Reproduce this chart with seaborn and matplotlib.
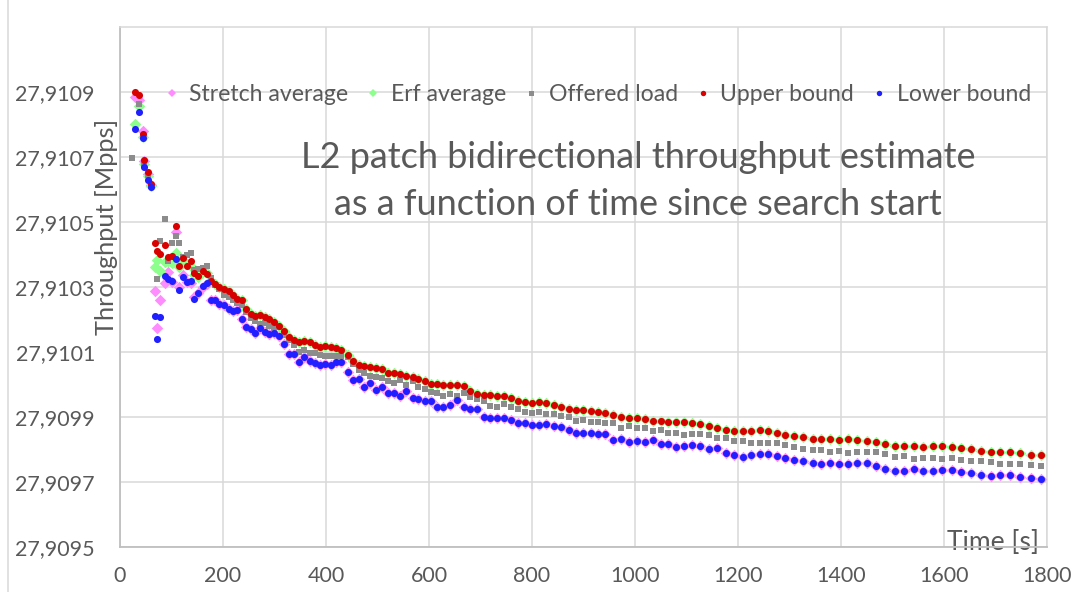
import numpy as np
import pandas as pd
import matplotlib
matplotlib.use("Agg")
import matplotlib.pyplot as plt
from matplotlib.lines import Line2D
from matplotlib.ticker import FuncFormatter
import seaborn as sns

nan = np.nan

# ---------------- data ----------------
time_s = [
    23, 29, 36, 44, 47, 54, 60,
    67, 72, 78, 87, 94, 100, 108, 115, 123, 130, 137,
    144, 152, 161, 168, 176, 185, 193, 202, 211, 220,
    227, 236, 244, 254, 263, 272, 281, 290, 299, 308,
    318, 328, 338, 348, 358, 368, 378, 389, 399, 410,
    420, 430, 442, 452, 464, 474, 486, 498, 509, 521,
    533, 544, 556, 568, 579, 592, 604, 616, 628, 641,
    654, 667, 680, 693, 706, 719, 732, 745, 760, 772,
    787, 800, 814, 828, 842, 857, 871, 885, 899, 914,
    928, 942, 958, 972, 988, 1003, 1019, 1034, 1050, 1065,
    1079, 1095, 1111, 1127, 1144, 1160, 1176, 1192, 1209, 1225,
    1242, 1258, 1275, 1292, 1309, 1326, 1345, 1361, 1379, 1396,
    1414, 1432, 1450, 1468, 1486, 1504, 1522, 1541, 1559, 1578,
    1596, 1615, 1633, 1652, 1672, 1691, 1709, 1729, 1748, 1768,
    1788,
]

upper_bound = [
    nan, 27.910900, 27.910892, 27.910771, 27.910691, 27.910654, 27.910617,
    27.910435, 27.910411, 27.910402, 27.910429, 27.910392, 27.910394, 27.910488, 27.910366, 27.910390, 27.910365, 27.910379,
    27.910342, 27.910335, 27.910348, 27.910340, 27.910317, 27.910309, 27.910301, 27.910293, 27.910287, 27.910275,
    27.910262, 27.910260, 27.910231, 27.910216, 27.910210, 27.910215, 27.910209, 27.910202, 27.910193, 27.910180,
    27.910165, 27.910147, 27.910137, 27.910131, 27.910134, 27.910130, 27.910122, 27.910116, 27.910117, 27.910115,
    27.910111, 27.910106, 27.910091, 27.910072, 27.910061, 27.910057, 27.910053, 27.910051, 27.910048, 27.910036,
    27.910035, 27.910031, 27.910027, 27.910023, 27.910017, 27.910010, 27.910002, 27.910001, 27.909999, 27.909999,
    27.910000, 27.909995, 27.909981, 27.909971, 27.909967, 27.909967, 27.909966, 27.909966, 27.909959, 27.909950,
    27.909946, 27.909944, 27.909945, 27.909944, 27.909938, 27.909930, 27.909925, 27.909922, 27.909922, 27.909918,
    27.909914, 27.909912, 27.909905, 27.909899, 27.909898, 27.909896, 27.909893, 27.909889, 27.909887, 27.909885,
    27.909884, 27.909884, 27.909883, 27.909878, 27.909872, 27.909865, 27.909861, 27.909858, 27.909857, 27.909858,
    27.909859, 27.909857, 27.909851, 27.909845, 27.909841, 27.909838, 27.909832, 27.909832, 27.909831, 27.909830,
    27.909831, 27.909830, 27.909827, 27.909823, 27.909816, 27.909812, 27.909811, 27.909810, 27.909809, 27.909810,
    27.909810, 27.909809, 27.909806, 27.909801, 27.909794, 27.909793, 27.909792, 27.909791, 27.909788, 27.909783,
    27.909783,
]

erf_average = [
    nan, 27.910802, 27.910857, 27.910762, 27.910679, 27.910642, 27.910611,
    27.910361, 27.910383, 27.910350, 27.910377, 27.910380, 27.910374, 27.910406, 27.910361, 27.910377, 27.910371, 27.910365,
    27.910337, 27.910331, 27.910346, 27.910342, 27.910317, 27.910309, 27.910301, 27.910293, 27.910287, 27.910275,
    27.910262, 27.910260, 27.910231, 27.910216, 27.910210, 27.910215, 27.910209, 27.910202, 27.910193, 27.910180,
    27.910165, 27.910147, 27.910137, 27.910131, 27.910134, 27.910130, 27.910122, 27.910116, 27.910117, 27.910115,
    27.910111, 27.910106, 27.910091, 27.910072, 27.910061, 27.910057, 27.910053, 27.910051, 27.910048, 27.910036,
    27.910035, 27.910031, 27.910027, 27.910023, 27.910017, 27.910010, 27.910002, 27.910001, 27.909999, 27.909999,
    27.910000, 27.909995, 27.909981, 27.909971, 27.909967, 27.909967, 27.909966, 27.909966, 27.909959, 27.909950,
    27.909946, 27.909944, 27.909945, 27.909944, 27.909938, 27.909930, 27.909925, 27.909922, 27.909922, 27.909918,
    27.909914, 27.909912, 27.909905, 27.909899, 27.909898, 27.909896, 27.909893, 27.909889, 27.909887, 27.909885,
    27.909884, 27.909884, 27.909883, 27.909878, 27.909872, 27.909865, 27.909861, 27.909858, 27.909857, 27.909858,
    27.909859, 27.909857, 27.909851, 27.909845, 27.909841, 27.909838, 27.909832, 27.909832, 27.909831, 27.909830,
    27.909831, 27.909830, 27.909827, 27.909823, 27.909816, 27.909812, 27.909811, 27.909810, 27.909809, 27.909810,
    27.909810, 27.909809, 27.909806, 27.909801, 27.909794, 27.909793, 27.909792, 27.909791, 27.909788, 27.909783,
    27.909783,
]

lower_bound = [
    nan, 27.910786, 27.910838, 27.910758, 27.910669, 27.910629, 27.910608,
    27.910211, 27.910141, 27.910209, 27.910334, 27.910325, 27.910320, 27.910385, 27.910291, 27.910332, 27.910314, 27.910318,
    27.910264, 27.910281, 27.910303, 27.910311, 27.910260, 27.910260, 27.910248, 27.910245, 27.910231, 27.910226,
    27.910229, 27.910202, 27.910176, 27.910170, 27.910158, 27.910174, 27.910161, 27.910155, 27.910157, 27.910149,
    27.910125, 27.910094, 27.910094, 27.910070, 27.910086, 27.910073, 27.910067, 27.910061, 27.910063, 27.910059,
    27.910069, 27.910069, 27.910038, 27.910014, 27.910018, 27.909993, 27.910006, 27.909983, 27.909993, 27.909973,
    27.909973, 27.909966, 27.909981, 27.909959, 27.909955, 27.909948, 27.909949, 27.909932, 27.909932, 27.909937,
    27.909952, 27.909932, 27.909925, 27.909924, 27.909900, 27.909897, 27.909897, 27.909897, 27.909891, 27.909881,
    27.909881, 27.909874, 27.909876, 27.909878, 27.909871, 27.909870, 27.909860, 27.909850, 27.909850, 27.909850,
    27.909848, 27.909847, 27.909829, 27.909831, 27.909823, 27.909825, 27.909823, 27.909828, 27.909816, 27.909816,
    27.909809, 27.909811, 27.909813, 27.909811, 27.909801, 27.909806, 27.909789, 27.909782, 27.909778, 27.909783,
    27.909786, 27.909786, 27.909780, 27.909773, 27.909767, 27.909764, 27.909759, 27.909755, 27.909760, 27.909754,
    27.909756, 27.909757, 27.909758, 27.909750, 27.909740, 27.909735, 27.909735, 27.909739, 27.909734, 27.909735,
    27.909737, 27.909737, 27.909732, 27.909728, 27.909721, 27.909718, 27.909721, 27.909721, 27.909716, 27.909712,
    27.909709,
]

stretch_average = [
    nan, 27.910886, 27.910875, 27.910780, 27.910688, 27.910648, 27.910614,
    27.910289, 27.910175, 27.910260, 27.910312, 27.910346, 27.910315, 27.910469, 27.910299, 27.910337, 27.910315, 27.910312,
    27.910269, 27.910282, 27.910300, 27.910309, 27.910260, 27.910260, 27.910248, 27.910245, 27.910231, 27.910226,
    27.910229, 27.910202, 27.910176, 27.910170, 27.910158, 27.910174, 27.910161, 27.910155, 27.910157, 27.910149,
    27.910125, 27.910094, 27.910094, 27.910070, 27.910086, 27.910073, 27.910067, 27.910061, 27.910063, 27.910059,
    27.910069, 27.910069, 27.910038, 27.910014, 27.910018, 27.909993, 27.910006, 27.909983, 27.909993, 27.909973,
    27.909973, 27.909966, 27.909981, 27.909959, 27.909955, 27.909948, 27.909949, 27.909932, 27.909932, 27.909937,
    27.909952, 27.909932, 27.909925, 27.909924, 27.909900, 27.909897, 27.909897, 27.909897, 27.909891, 27.909881,
    27.909881, 27.909874, 27.909876, 27.909878, 27.909871, 27.909870, 27.909860, 27.909850, 27.909850, 27.909850,
    27.909848, 27.909847, 27.909829, 27.909831, 27.909823, 27.909825, 27.909823, 27.909828, 27.909816, 27.909816,
    27.909809, 27.909811, 27.909813, 27.909811, 27.909801, 27.909806, 27.909789, 27.909782, 27.909778, 27.909783,
    27.909786, 27.909786, 27.909780, 27.909773, 27.909767, 27.909764, 27.909759, 27.909755, 27.909760, 27.909754,
    27.909756, 27.909757, 27.909758, 27.909750, 27.909740, 27.909735, 27.909735, 27.909739, 27.909734, 27.909735,
    27.909737, 27.909737, 27.909732, 27.909728, 27.909721, 27.909718, 27.909721, 27.909721, 27.909716, 27.909712,
    27.909709,
]

offered_load = [
    27.910698, nan, 27.910863, 27.910765, 27.910678, 27.910645, 27.910611,
    nan, 27.910324, 27.910442, 27.910508, 27.910380, 27.910434, 27.910458, 27.910436, 27.910392, 27.910399, 27.910404,
    27.910352, 27.910354, 27.910358, 27.910365, 27.910327, 27.910306, 27.910294, 27.910275, 27.910269, 27.910260,
    27.910250, 27.910245, 27.910223, 27.910204, 27.910195, 27.910186, 27.910188, 27.910180, 27.910173, 27.910178,
    27.910152, 27.910137, 27.910122, 27.910101, 27.910106, 27.910098, 27.910098, 27.910091, 27.910088, 27.910088,
    27.910087, 27.910088, 27.910085, 27.910063, 27.910044, 27.910035, 27.910027, 27.910023, 27.910019, 27.910011,
    27.910004, 27.910014, 27.909999, 27.910011, 27.909991, 27.909985, 27.909978, 27.909975, 27.909966, 27.909971,
    27.909966, 27.909975, 27.909962, 27.909956, 27.909950, 27.909934, 27.909931, 27.909940, 27.909931, 27.909924,
    27.909915, 27.909913, 27.909916, 27.909909, 27.909909, 27.909903, 27.909900, 27.909889, 27.909891, 27.909886,
    27.909884, 27.909883, 27.909883, 27.909867, 27.909873, 27.909865, 27.909867, 27.909858, 27.909861, 27.909851,
    27.909851, 27.909846, 27.909848, 27.909848, 27.909845, 27.909836, 27.909836, 27.909827, 27.909826, 27.909819,
    27.909821, 27.909821, 27.909821, 27.909814, 27.909809, 27.909802, 27.909799, 27.909799, 27.909793, 27.909796,
    27.909790, 27.909792, 27.909792, 27.909792, 27.909786, 27.909778, 27.909780, 27.909771, 27.909774, 27.909774,
    27.909772, 27.909773, 27.909769, 27.909766, 27.909765, 27.909762, 27.909756, 27.909756, 27.909756, 27.909753,
    27.909750,
]

series_names = ["Stretch average", "Erf average", "Offered load", "Upper bound", "Lower bound"]
x_ticks = [0, 200, 400, 600, 800, 1000, 1200, 1400, 1600, 1800]
y_ticks = [27.9095, 27.9097, 27.9099, 27.9101, 27.9103, 27.9105, 27.9107, 27.9109]
title_text = "L2 patch bidirectional throughput estimate\nas a function of time since search start"
x_label = "Time [s]"
y_label = "Throughput [Mpps]"

# ---------------- styling ----------------
styles = {
    "Stretch average": dict(marker="D", color="#ff8cff", s=34, ms=4.4),
    "Erf average":     dict(marker="D", color="#8cff8c", s=34, ms=4.4),
    "Offered load":    dict(marker="s", color="#8c8c8c", s=23, ms=3.6),
    "Upper bound":     dict(marker="o", color="#d80000", s=26, ms=3.9),
    "Lower bound":     dict(marker="o", color="#1f1fff", s=26, ms=3.9),
}
text_color = "#595959"
grid_color = "#d9d9d9"

sns.set_theme(style="white")
plt.rcParams["font.family"] = ["Lato", "DejaVu Sans"]

wide = pd.DataFrame({
    "time": time_s,
    "Stretch average": stretch_average,
    "Erf average": erf_average,
    "Offered load": offered_load,
    "Upper bound": upper_bound,
    "Lower bound": lower_bound,
})
long = wide.melt(id_vars="time", var_name="series", value_name="value").dropna()

W, H = 1077, 592
fig = plt.figure(figsize=(W / 100, H / 100), dpi=100)
fig.patch.set_facecolor("white")
ax = fig.add_axes([120 / W, 45 / H, 927 / W, 520 / H])

for i, name in enumerate(series_names):
    st = styles[name]
    sub = long[long["series"] == name]
    sns.scatterplot(data=sub, x="time", y="value", ax=ax, marker=st["marker"],
                    color=st["color"], s=st["s"], linewidth=0, legend=False,
                    zorder=3 + i)

ax.set_xlim(0, 1800)
ax.set_ylim(27.9095, 27.9111)
ax.set_xticks(x_ticks)
ax.set_yticks(y_ticks)
ax.yaxis.set_major_formatter(FuncFormatter(lambda v, p: f"{v:.4f}".replace(".", ",")))
ax.xaxis.set_major_formatter(FuncFormatter(lambda v, p: f"{v:.0f}"))
ax.grid(True, color=grid_color, linewidth=1.1, zorder=0)
ax.set_axisbelow(True)
ax.tick_params(axis="both", length=0, labelsize=15.5, labelcolor=text_color)
ax.tick_params(axis="y", pad=18)
ax.tick_params(axis="x", pad=14)

for side in ["top", "right"]:
    ax.spines[side].set_color(grid_color)
    ax.spines[side].set_linewidth(1.1)
for side in ["left", "bottom"]:
    ax.spines[side].set_color("#bfbfbf")
    ax.spines[side].set_linewidth(1.3)

ax.set_xlabel(x_label, loc="right", fontsize=19, color=text_color)
ax.xaxis.set_label_coords(0.991, 0.033)
ax.set_ylabel(y_label, fontsize=18.3, color=text_color)
ax.yaxis.set_label_coords(-0.002, 0.615)

ax.text(0.559, 0.704, title_text, transform=ax.transAxes, ha="center", va="center",
        fontsize=26, color=text_color, linespacing=1.5)

handles = [Line2D([], [], linestyle="none", marker=styles[n]["marker"],
                  color=styles[n]["color"], markersize=styles[n]["ms"],
                  markeredgewidth=0) for n in series_names]
leg = ax.legend(handles, series_names, loc="center left", bbox_to_anchor=(0.047, 0.871),
                ncol=5, frameon=False, fontsize=16.6, handlelength=0.7,
                handletextpad=0.4, columnspacing=0.75, borderaxespad=0, borderpad=0)
for t in leg.get_texts():
    t.set_color(text_color)

# chart-area border at the left edge
fig.add_artist(Line2D([8 / W, 8 / W], [0, 1], transform=fig.transFigure,
                      color=grid_color, linewidth=1.1))

fig.savefig("out.png", dpi=100, facecolor="white")
